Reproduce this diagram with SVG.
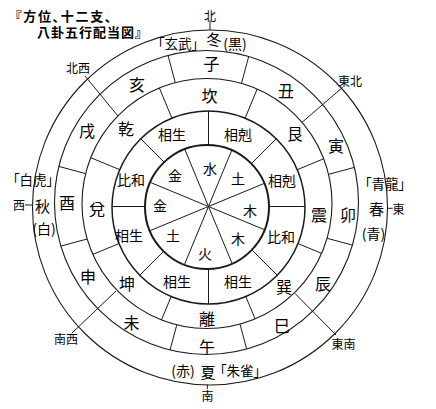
<svg xmlns="http://www.w3.org/2000/svg" width="436" height="409" viewBox="0 0 436 409">
<style>
.c{fill:none;stroke:#1a1a1a;stroke-width:1.1}
.c1{stroke-width:2}
.c2{stroke-width:1.5}
.ln line{stroke:#1a1a1a;stroke-width:1}
text{font-family:"Noto Sans CJK JP","Noto Sans CJK SC",sans-serif;fill:#000;text-anchor:middle;dominant-baseline:central;font-feature-settings:"palt" 1}
.s16{font-size:16px}
.s14{font-size:14px}
.s13{font-size:13.5px}
.s15{font-size:15px}
.s12{font-size:12px}
.ttl{font-size:13px;font-weight:700;text-anchor:start}
</style>
<rect width="436" height="409" fill="#fff"/>

<g id="title">
<text class="ttl"><tspan x="15" y="14.5" letter-spacing="1.7">『方位、十二支、</tspan><tspan x="37" y="31" letter-spacing="1">八卦五行配当図』</tspan></text>
</g>

<g id="circles">
<circle class="c c5" cx="210" cy="207.5" r="177.5"/>
<circle class="c c4" cx="206.5" cy="202.5" r="152"/>
<circle class="c c3" cx="207" cy="203.5" r="125"/>
<circle class="c c2" cx="208.5" cy="207.5" r="96.5"/>
<circle class="c c1" cx="207" cy="207" r="62"/>
</g>

<g id="connectors" class="ln">
<!-- five elements sectors -->
<line x1="231.8" y1="150.2" x2="184.4" y2="264.7"/>
<line x1="264.3" y1="183.4" x2="149.7" y2="230.8"/>
<line x1="264.7" y1="229.8" x2="150.1" y2="182.3"/>
<line x1="232.2" y1="263.7" x2="184.7" y2="149.1"/>
<!-- relation ring -->
<line x1="208.5" y1="145" x2="208.5" y2="111"/>
<line x1="251.3" y1="163.7" x2="276.2" y2="138.8"/>
<line x1="269" y1="206.5" x2="305" y2="206.5"/>
<line x1="251.8" y1="249.8" x2="277.2" y2="275.2"/>
<line x1="208.5" y1="269" x2="208.5" y2="304"/>
<line x1="163.7" y1="251.3" x2="139.8" y2="275.2"/>
<line x1="145" y1="206.5" x2="112" y2="206.5"/>
<line x1="164.2" y1="162.2" x2="140.8" y2="138.8"/>
<!-- trigram ring -->
<line x1="245.1" y1="118.2" x2="257.2" y2="89"/>
<line x1="297.3" y1="169.7" x2="323.8" y2="158.7"/>
<line x1="298" y1="243.6" x2="321.7" y2="253.4"/>
<line x1="245.8" y1="296.5" x2="255.1" y2="318.9"/>
<line x1="171.2" y1="296.5" x2="161.5" y2="319.9"/>
<line x1="119" y1="243.6" x2="92.8" y2="254.4"/>
<line x1="119.7" y1="169.7" x2="90.7" y2="157.7"/>
<line x1="171.9" y1="118.2" x2="159.4" y2="88"/>
<!-- branch ring -->
<line x1="241.5" y1="83.3" x2="248.7" y2="56.5"/>
<line x1="328.6" y1="174.3" x2="354.4" y2="167.4"/>
<line x1="327.1" y1="238.3" x2="352.4" y2="245.1"/>
<line x1="240" y1="324.1" x2="246.7" y2="349.1"/>
<line x1="176.8" y1="324.8" x2="170" y2="350.1"/>
<line x1="87.1" y1="239" x2="60.8" y2="246.1"/>
<line x1="85.6" y1="173.6" x2="58.8" y2="166.4"/>
<line x1="175.3" y1="82.6" x2="168" y2="55.4"/>
<!-- diagonals -->
<line x1="302.1" y1="122.3" x2="342.7" y2="87.3"/>
<line x1="295" y1="293.5" x2="336" y2="335"/>
<line x1="116" y1="291" x2="71.7" y2="333.3"/>
<line x1="117.9" y1="115.9" x2="85" y2="76"/>
<!-- cardinal ticks -->
<line x1="210" y1="20.5" x2="210" y2="30"/>
<line x1="207.3" y1="384.5" x2="207.3" y2="389"/>
<line x1="387.7" y1="208.3" x2="392.7" y2="208.3"/>
<line x1="25" y1="205" x2="32" y2="205"/>
</g>

<g id="five-elements" class="s14">
<text x="210" y="168">水</text>
<text x="238" y="178">土</text>
<text x="250" y="210">木</text>
<text x="238" y="238">木</text>
<text x="205" y="253">火</text>
<text x="173" y="235">土</text>
<text x="160" y="205">金</text>
<text x="175" y="175">金</text>
</g>

<g id="relations" class="s14">
<text x="172" y="134">相生</text>
<text x="238" y="134">相剋</text>
<text x="282" y="180">相剋</text>
<text x="281" y="236">比和</text>
<text x="238" y="281">相生</text>
<text x="177" y="281">相生</text>
<text x="129" y="235">相生</text>
<text x="131" y="179">比和</text>
</g>

<g id="trigrams" class="s16">
<text x="209.5" y="95">坎</text>
<text x="295" y="133">艮</text>
<text x="319" y="214">震</text>
<text x="284" y="286">巽</text>
<text x="207" y="318">離</text>
<text x="127" y="283">坤</text>
<text x="97" y="208">兌</text>
<text x="126" y="128">乾</text>
</g>

<g id="branches" class="s16">
<text x="211.5" y="63">子</text>
<text x="286" y="90">丑</text>
<text x="336" y="145">寅</text>
<text x="348" y="214">卯</text>
<text x="323" y="283">辰</text>
<text x="282" y="325">巳</text>
<text x="207" y="346">午</text>
<text x="131.5" y="322">未</text>
<text x="88" y="276">申</text>
<text x="67" y="202">酉</text>
<text x="87" y="130">戌</text>
<text x="137" y="83.5">亥</text>
</g>

<g id="north">
<text class="s12" x="210" y="15">北</text>
<text class="s13" x="178" y="43">「玄武」</text>
<text class="s15" x="214" y="38.5">冬</text>
<text class="s14" x="235" y="43">(黒)</text>
</g>
<g id="south">
<text class="s12" x="207.5" y="395">南</text>
<text class="s14" x="183" y="370">(赤)</text>
<text class="s15" x="208" y="371">夏</text>
<text class="s13" x="240" y="370">「朱雀」</text>
</g>
<g id="east">
<text class="s12" x="398.5" y="208.5">東</text>
<text class="s13" x="385" y="183">「青龍」</text>
<text class="s15" x="376.5" y="208">春</text>
<text class="s14" x="373.5" y="232.5">(青)</text>
</g>
<g id="west">
<text class="s12" x="19" y="204">西</text>
<text class="s13" x="33" y="179">「白虎」</text>
<text class="s15" x="42.5" y="205">秋</text>
<text class="s14" x="44" y="227.5">(白)</text>
</g>

<g id="diagonal-labels" class="s12">
<text x="78" y="67">北西</text>
<text x="350" y="80">東北</text>
<text x="343.5" y="343">東南</text>
<text x="66" y="338">南西</text>
</g>
</svg>
